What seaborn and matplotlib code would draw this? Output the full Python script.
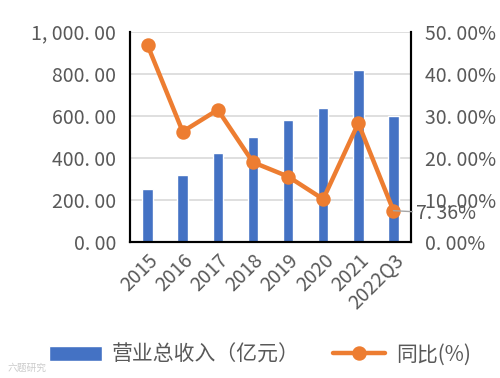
import matplotlib
matplotlib.use("Agg")
import matplotlib.pyplot as plt
from matplotlib.ticker import FuncFormatter
import pandas as pd
import seaborn as sns

years = ["2015", "2016", "2017", "2018", "2019", "2020", "2021", "2022Q3"]
revenue = [251, 317, 422, 500, 580, 637, 818, 599]
yoy = [46.8, 26.2, 31.4, 18.9, 15.5, 10.1, 28.2, 7.36]

sns.set_style("white")
plt.rcParams["font.family"] = ["Noto Sans CJK SC", "DejaVu Sans"]

blue = "#4472C4"
orange = "#ED7D31"
grey = "#595959"

df = pd.DataFrame({"year": years, "revenue": revenue, "yoy": yoy})

fig = plt.figure(figsize=(5, 3.78), dpi=100)
ax = fig.add_axes([0.26, 0.361, 0.562, 0.555])
sns.barplot(data=df, x="year", y="revenue", color=blue, width=0.3,
            saturation=1, ax=ax, label="营业总收入（亿元）")
ax.set_ylim(0, 1000)
ax.set_yticks(range(0, 1001, 200))
ax.yaxis.set_major_formatter(FuncFormatter(lambda v, p: f"{v:,.2f}".replace(",", ", ").replace(".", ". ")))
ax.grid(axis="y", color="#d9d9d9", linewidth=1.2)
ax.set_axisbelow(True)
ax.set_xlabel(""); ax.set_ylabel("")

ax2 = ax.twinx()
sns.pointplot(data=df, x="year", y="yoy", color=orange, ax=ax2,
              markersize=8, linewidth=3.2, label="同比(%)")
ax2.set_ylim(0, 50)
ax2.set_yticks(range(0, 51, 10))
ax2.yaxis.set_major_formatter(FuncFormatter(lambda v, p: f"{v:.2f}".replace(".", ". ") + "%"))
ax2.set_ylabel("")
ax2.grid(False)
ax.set_xlim(-0.5, len(years) - 0.5)

for a in (ax, ax2):
    for s in ("left", "right", "bottom"):
        a.spines[s].set_visible(True)
        a.spines[s].set_color("black")
        a.spines[s].set_linewidth(1.5)
    a.spines["top"].set_visible(False)
    a.tick_params(length=0, labelsize=14, colors=grey, pad=10)

ax.set_xticks(range(len(years)))
ax.set_xticklabels(years, rotation=45, ha="right", rotation_mode="anchor", fontsize=14, color=grey)
ax.tick_params(axis="x", pad=6)

ax2.annotate(f"{yoy[-1]:.2f}".replace(".", ". ") + "%", xy=(len(years) - 1, yoy[-1]),
             xytext=(16, -2), textcoords="offset points", va="center", ha="left",
             fontsize=14, color=grey,
             arrowprops=dict(arrowstyle="-", color="#a6a6a6", lw=1, shrinkA=0, shrinkB=0))

h1, l1 = ax.get_legend_handles_labels()
h2, l2 = ax2.get_legend_handles_labels()
if ax2.get_legend():
    ax2.get_legend().remove()
if ax.get_legend():
    ax.get_legend().remove()
fig.legend(h1 + h2, l1 + l2, loc="center", bbox_to_anchor=(0.52, 0.062), ncol=2,
           frameon=False, fontsize=15, handlelength=2.5, handletextpad=0.5,
           columnspacing=1.6, labelcolor=grey)

fig.text(0.015, 0.02, "六题研究", fontsize=7, color="#cccccc")

fig.savefig("out.png", dpi=100)
